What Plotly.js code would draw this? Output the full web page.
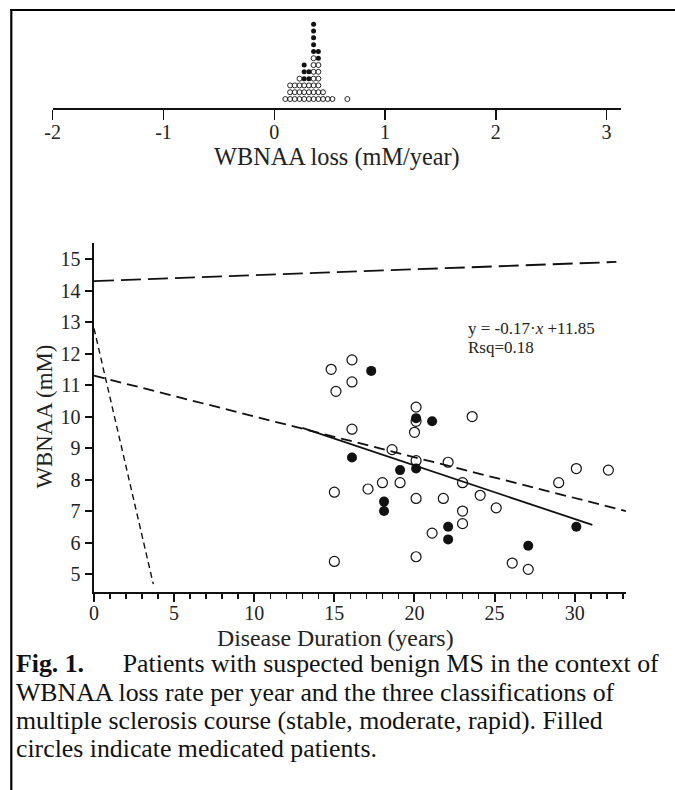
<!DOCTYPE html>
<html><head><meta charset="utf-8">
<script src="https://cdn.plot.ly/plotly-3.0.1.min.js"></script>
<style>html,body{margin:0;padding:0;background:#fff}#chart{width:675px;height:790px}</style>
</head><body><div id="chart"></div>
<script>
// ---- Top dot plot: WBNAA loss (mM/year) ----
const lossBins        = [0.100, 0.143, 0.185, 0.228, 0.270, 0.313, 0.355, 0.398, 0.440, 0.483, 0.525, 0.660];
const lossOpenCount   = [1, 3, 3, 4, 3, 3, 7, 6, 2, 1, 1, 1];
const lossFilledCount = [0, 0, 0, 0, 3, 2, 5, 2, 0, 0, 0, 0];
const lossTickVals = [-2, -1, 0, 1, 2, 3];
const lossTickText = ['-2', '-1', '0', '1', '2', '3'];

// ---- Scatter: WBNAA vs disease duration ----
const openDuration = [14.8, 16.1, 16.1, 15.1, 20.1, 20.1, 20.0, 23.6, 16.1, 18.6, 20.1, 22.1, 23.0, 18.0, 19.1, 15.0, 17.1, 20.1, 21.8, 24.1, 25.1, 23.0, 23.0, 21.1, 29.0, 30.1, 32.1, 26.1, 27.1, 20.1, 15.0];
const openWBNAA    = [11.5, 11.8, 11.1, 10.8, 10.3, 9.85, 9.5, 10.0, 9.6, 8.95, 8.6, 8.55, 7.9, 7.9, 7.9, 7.6, 7.7, 7.4, 7.4, 7.5, 7.1, 7.0, 6.6, 6.3, 7.9, 8.35, 8.3, 5.35, 5.15, 5.55, 5.4];
const medDuration  = [17.3, 20.1, 21.1, 16.1, 20.1, 19.1, 18.1, 18.1, 22.1, 22.1, 30.1, 27.1];
const medWBNAA     = [11.45, 9.95, 9.85, 8.7, 8.35, 8.3, 7.3, 7.0, 6.5, 6.1, 6.5, 5.9];

const stableLineX   = [0, 32.6],  stableLineY   = [14.3, 14.91];
const rapidLineX    = [0, 3.7],   rapidLineY    = [12.8, 4.68];
const moderateLineX = [0, 33.2],  moderateLineY = [11.3, 7.0];
const fitLineX      = [13.0, 31.1], fitLineY    = [9.64, 6.56];

const xTickVals = [0, 5, 10, 15, 20, 25, 30];
const yTickVals = [5, 6, 7, 8, 9, 10, 11, 12, 13, 14, 15];

const W = 675, H = 790;
const px = x => x / W, py = y => 1 - y / H;
const SERIF = 'Liberation Serif, Times New Roman, serif';
const INK = '#111', TXT = '#222';

const dotOpenX = [], dotOpenY = [], dotFillX = [], dotFillY = [];
lossBins.forEach((b, i) => {
  for (let k = 0; k < lossOpenCount[i]; k++) { dotOpenX.push(b); dotOpenY.push(k); }
  for (let k = 0; k < lossFilledCount[i]; k++) { dotFillX.push(b); dotFillY.push(lossOpenCount[i] + k); }
});

const traces = [
  {x: dotOpenX, y: dotOpenY, xaxis: 'x2', yaxis: 'y2', mode: 'markers', type: 'scatter',
   marker: {symbol: 'circle-open', size: 5, color: INK, line: {width: 0.9, color: INK}}, cliponaxis: false},
  {x: dotFillX, y: dotFillY, xaxis: 'x2', yaxis: 'y2', mode: 'markers', type: 'scatter',
   marker: {symbol: 'circle', size: 5, color: INK}, cliponaxis: false},
  {x: stableLineX, y: stableLineY, mode: 'lines', type: 'scatter', line: {color: INK, width: 1.8, dash: '20px,7px'}},
  {x: rapidLineX, y: rapidLineY, mode: 'lines', type: 'scatter', line: {color: INK, width: 1.4, dash: '6px,4px'}},
  {x: moderateLineX, y: moderateLineY, mode: 'lines', type: 'scatter', line: {color: INK, width: 1.8, dash: '11px,6px'}},
  {x: fitLineX, y: fitLineY, mode: 'lines', type: 'scatter', line: {color: INK, width: 1.8}},
  {x: openDuration, y: openWBNAA, mode: 'markers', type: 'scatter',
   marker: {symbol: 'circle-open', size: 10, color: INK, line: {width: 1.2, color: INK}}},
  {x: medDuration, y: medWBNAA, mode: 'markers', type: 'scatter',
   marker: {symbol: 'circle', size: 10, color: INK}}
];

const capFont = {family: SERIF, size: 25.8, color: INK};
const layout = {
  width: W, height: H, margin: {l: 0, r: 0, t: 0, b: 0},
  paper_bgcolor: '#fff', plot_bgcolor: 'rgba(0,0,0,0)', showlegend: false,
  xaxis: {domain: [px(94), px(626)], range: [0, 33.2], anchor: 'y', showline: true, linewidth: 2.5, linecolor: INK,
          ticks: 'outside', ticklen: 8, tickwidth: 2, tickcolor: INK, tickvals: xTickVals, ticklabelstandoff: -6,
          minor: {dtick: 1, tick0: 0, ticks: 'outside', ticklen: 5, tickwidth: 1.5, tickcolor: INK, showgrid: false},
          showgrid: false, zeroline: false, tickfont: {family: SERIF, size: 20, color: TXT}},
  yaxis: {domain: [py(591.7), py(242.7)], range: [4.44, 15.52], anchor: 'x', showline: true, linewidth: 2.5, linecolor: INK,
          ticks: 'outside', ticklen: 7, tickwidth: 2, tickcolor: INK, tickvals: yTickVals,
          showgrid: false, zeroline: false, tickfont: {family: SERIF, size: 20, color: TXT}},
  xaxis2: {domain: [px(52.7), px(621)], range: [-2, 3.13], anchor: 'y2', showline: true, linewidth: 1.5, linecolor: INK,
           ticks: 'outside', ticklen: 10, tickwidth: 1.5, tickcolor: INK, tickvals: lossTickVals, ticktext: lossTickText,
           ticklabelstandoff: -5,
           showgrid: false, zeroline: false, tickfont: {family: SERIF, size: 20, color: TXT}},
  yaxis2: {domain: [py(108), py(18)], range: [-1.32, 11.92], anchor: 'x2', visible: false},
  shapes: [
    {type: 'line', xref: 'paper', yref: 'paper', x0: px(10), x1: 1, y0: py(10), y1: py(10), line: {color: '#000', width: 2.2}},
    {type: 'line', xref: 'paper', yref: 'paper', x0: px(11.3), x1: px(11.3), y0: py(9), y1: 0, line: {color: '#000', width: 2.2}}
  ],
  annotations: [
    {xref: 'paper', yref: 'paper', x: px(336.7), y: py(157), text: 'WBNAA loss (mM/year)', showarrow: false,
     xanchor: 'center', yanchor: 'middle', font: {family: SERIF, size: 24.3, color: TXT}},
    {xref: 'paper', yref: 'paper', x: px(335.5), y: py(638), text: 'Disease Duration (years)', showarrow: false,
     xanchor: 'center', yanchor: 'middle', font: {family: SERIF, size: 23.8, color: TXT}},
    {xref: 'paper', yref: 'paper', x: px(43.5), y: py(417), text: 'WBNAA (mM)', showarrow: false, textangle: -90,
     xanchor: 'center', yanchor: 'middle', font: {family: SERIF, size: 22.8, color: TXT}},
    {xref: 'x', yref: 'y', x: 23.2, y: 12.8, text: 'y = -0.17·<i>x</i> +11.85', showarrow: false,
     xanchor: 'left', yanchor: 'middle', font: {family: SERIF, size: 17, color: TXT}},
    {xref: 'x', yref: 'y', x: 23.2, y: 12.18, text: 'Rsq=0.18', showarrow: false,
     xanchor: 'left', yanchor: 'middle', font: {family: SERIF, size: 17, color: TXT}},
    {xref: 'paper', yref: 'paper', x: px(14), y: py(663), xanchor: 'left', yanchor: 'middle', showarrow: false,
     text: '<b>Fig. 1.</b>\u00a0\u00a0\u00a0\u00a0\u00a0\u00a0Patients with suspected benign MS in the context of', font: capFont},
    {xref: 'paper', yref: 'paper', x: px(14), y: py(692), xanchor: 'left', yanchor: 'middle', showarrow: false,
     text: 'WBNAA loss rate per year and the three classifications of', font: capFont},
    {xref: 'paper', yref: 'paper', x: px(14), y: py(720), xanchor: 'left', yanchor: 'middle', showarrow: false,
     text: 'multiple sclerosis course (stable, moderate, rapid). Filled', font: capFont},
    {xref: 'paper', yref: 'paper', x: px(14), y: py(748), xanchor: 'left', yanchor: 'middle', showarrow: false,
     text: 'circles indicate medicated patients.', font: capFont}
  ]
};

Plotly.newPlot('chart', traces, layout, {displayModeBar: false, staticPlot: true});
</script>
</body></html>
